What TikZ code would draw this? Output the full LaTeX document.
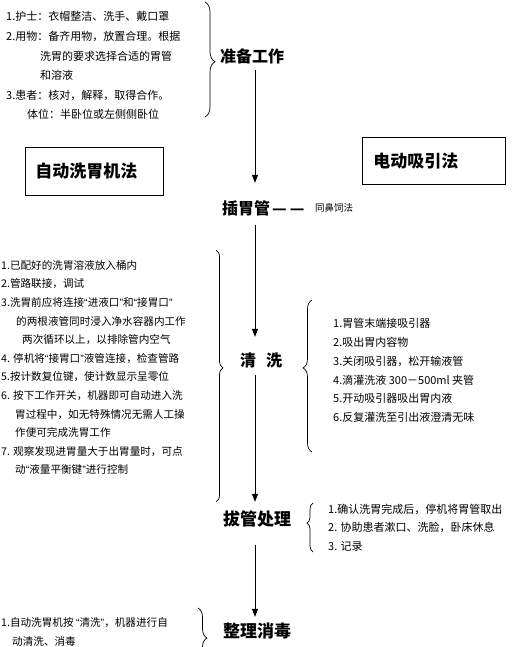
\documentclass[tikz,border=0pt]{standalone}
\usepackage{fontspec}
\setmainfont{Noto Sans CJK SC}
\newfontfamily\latq{Liberation Sans}
\newcommand\myqo{{\latq “}}
\newcommand\myqc{{\latq ”}}
\usetikzlibrary{arrows.meta,decorations.pathreplacing}
\tikzset{
  ln/.style={anchor=west, inner sep=0pt, text height=8.8pt, text depth=2.2pt, font=\fontsize{11}{13}\selectfont},
  lnl/.style={anchor=west, inner sep=0pt, text height=8.5pt, text depth=2.1pt, font=\fontsize{10.6}{13}\selectfont},
  tiny/.style={anchor=west, inner sep=0pt, text height=7.6pt, text depth=1.9pt, font=\fontsize{9.5}{11}\selectfont},
  head/.style={anchor=west, inner sep=0pt, text height=12.8pt, text depth=3.2pt, font=\fontsize{16}{18}\selectfont\bfseries},
  headb/.style={anchor=west, inner sep=0pt, text height=13.6pt, text depth=3.4pt, font=\fontsize{17}{19}\selectfont\bfseries},
  boxnode/.style={draw, line width=0.7pt, anchor=north west, inner ysep=0pt, align=left, font=\fontsize{17}{19}\selectfont\bfseries},
  arr/.style={line width=0.7pt, -{Triangle[length=8pt,width=6pt]}},
  brc/.style={line width=0.7pt, decorate},
}
\begin{document}
\begin{tikzpicture}[x=1pt,y=-1pt]
\clip (0,0) rectangle (523,647);
\useasboundingbox (0,0) rectangle (523,647);
\coordinate (ax) at (255,0);

% top block
\node[ln] (t1) at (6,17) {1.护士：衣帽整洁、洗手、戴口罩};
\node[ln] (t2) at (6,37) {2.用物：备齐用物，放置合理。根据};
\node[ln] (t3) at (40,57) {洗胃的要求选择合适的胃管};
\node[ln] (t4) at (40,76) {和溶液};
\node[ln] (t5) at (6,96) {3.患者：核对，解释，取得合作。};
\node[ln] (t6) at (27,115) {体位：半卧位或左侧侧卧位};
\draw[brc, decoration={brace, amplitude=10pt, aspect=0.52}] (205,2) -- (205,117);

% headings
\node[head] (zb) at (220,58) {准备工作};
\node[head] (cwg) at (222,210) {插胃管\kern2pt—\kern3pt—};
\node[tiny] (tbs) at (315,209) {同鼻饲法};
\node[head] (qx) at (240,362) {清\hspace{10pt}洗};
\node[headb] (bg) at (223,520) {拔管处理};
\node[headb] (zl) at (223,632) {整理消毒};

% boxes
\node[boxnode, inner xsep=10pt, minimum height=48pt, text width=118pt] (bl) at (25,147) {自动洗胃机法};
\node[boxnode, inner xsep=11pt, minimum height=47pt, text width=121pt] (br) at (362,137) {电动吸引法};

% main flow
\draw[arr, shorten <=4pt, shorten >=19pt] (zb.south -| ax) -- (cwg.north -| ax);
\draw[arr, shorten <=7pt, shorten >=17pt] (cwg.south -| ax) -- (qx.north -| ax);
\draw[arr, shorten <=5pt, shorten >=9.5pt] (qx.south -| ax) -- (bg.north -| ax);
\draw[arr, shorten <=16.5pt, shorten >=6.5pt] (bg.south -| ax) -- (zl.north -| ax);

% left block
\node[lnl] (l1) at (1,266) {1.已配好的洗胃溶液放入桶内};
\node[lnl] (l2) at (1,284.6) {2.管路联接，调试};
\node[lnl] (l3) at (1,303.2) {3.洗胃前应将连接\myqo 进液口\myqc 和\myqo 接胃口\myqc};
\node[lnl] (l4) at (16,321.8) {的两根液管同时浸入净水容器内工作};
\node[lnl] (l5) at (22,340.4) {两次循环以上，以排除管内空气};
\node[lnl] (l6) at (1,359) {4. 停机将\myqo 接胃口\myqc 液管连接，检查管路};
\node[lnl] (l7) at (1,377.6) {5.按计数复位键，使计数显示呈零位};
\node[lnl] (l8) at (1,396.2) {6. 按下工作开关，机器即可自动进入洗};
\node[lnl] (l9) at (15,414.8) {胃过程中，如无特殊情况无需人工操};
\node[lnl] (l10) at (15,433.4) {作便可完成洗胃工作};
\node[lnl] (l11) at (1,452) {7. 观察发现进胃量大于出胃量时，可点};
\node[lnl] (l12) at (15,470.6) {动\myqo 液量平衡键\myqc 进行控制};
\draw[brc, decoration={brace, amplitude=7pt, aspect=0.468}] (216,250) -- (216,502);

% right block
\node[ln] (r1) at (333,324) {1.胃管末端接吸引器};
\node[ln] (r2) at (333,343) {2.吸出胃内容物};
\node[ln] (r3) at (333,362) {3.关闭吸引器，松开输液管};
\node[ln] (r4) at (333,381) {4.滴灌洗液 300－500ml 夹管};
\node[ln] (r5) at (333,399) {5.开动吸引器吸出胃内液};
\node[ln] (r6) at (333,418) {6.反复灌洗至引出液澄清无味};
\draw[brc, decoration={brace, amplitude=9pt, aspect=0.553}] (312,452) -- (312,300);

% bottom right block
\node[ln] (b1) at (328,510) {1.确认洗胃完成后，停机将胃管取出};
\node[ln] (b2) at (328,528) {2. 协助患者漱口、洗脸，卧床休息};
\node[ln] (b3) at (328,547) {3. 记录};
\draw[brc, decoration={brace, amplitude=6pt, aspect=0.59}] (313,552) -- (313,503);

% bottom left block
\node[lnl] (z1) at (1,623) {1.自动洗胃机按 \myqo 清洗\myqc ，机器进行自};
\node[lnl] (z2) at (12,642) {动清洗、消毒};
\draw[brc, decoration={brace, amplitude=9pt, aspect=0.5}] (198,608) -- (198,668);
\end{tikzpicture}
\end{document}
